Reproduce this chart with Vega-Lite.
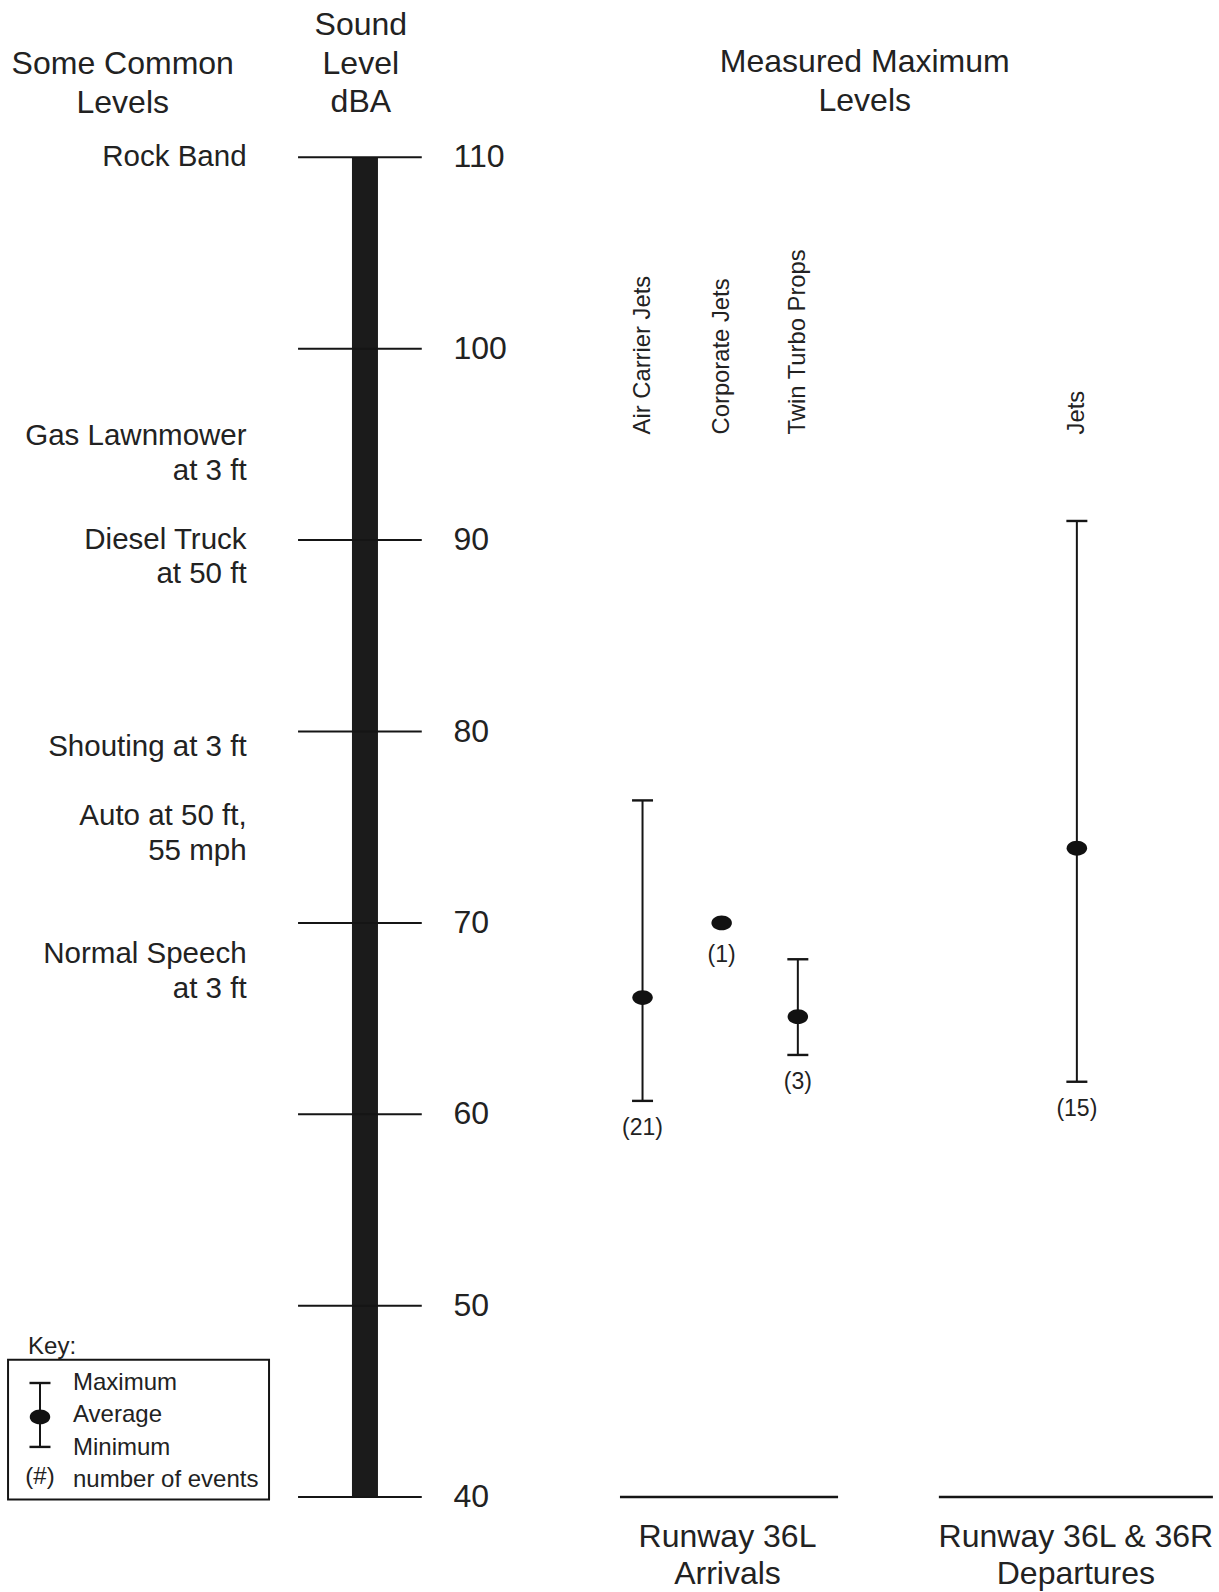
{
  "$schema": "https://vega.github.io/schema/vega-lite/v6.json",
  "width": 1219,
  "height": 1592,
  "autosize": {"type": "none"},
  "padding": 0,
  "background": "white",
  "config": {
    "view": {"stroke": null},
    "text": {"font": "Liberation Sans", "color": "#222", "lineBreak": "\n"},
    "rule": {"color": "#151515"}
  },
  "data": {"values": [{}]},
  "datasets": {
    "scale_ticks": [{"db": 110}, {"db": 100}, {"db": 90}, {"db": 80}, {"db": 70}, {"db": 60}, {"db": 50}, {"db": 40}],
    "scale_span": [{"low": 40, "high": 110}],
    "common_levels": [
      {"source": "Rock Band", "level": 110},
      {"source": "Gas Lawnmower\nat 3 ft", "level": 95.42},
      {"source": "Diesel Truck\nat 50 ft", "level": 90.01},
      {"source": "Shouting at 3 ft", "level": 79.19},
      {"source": "Auto at 50 ft,\n55 mph", "level": 75.58},
      {"source": "Normal Speech\nat 3 ft", "level": 68.37}
    ],
    "measured": [
      {"runway": "Runway 36L Arrivals", "aircraft": "Air Carrier Jets", "slot": 52.71, "min": 60.7, "avg": 66.1, "max": 76.4, "events": 21},
      {"runway": "Runway 36L Arrivals", "aircraft": "Corporate Jets", "slot": 59.2, "min": null, "avg": 70.0, "max": null, "events": 1},
      {"runway": "Runway 36L Arrivals", "aircraft": "Twin Turbo Props", "slot": 65.45, "min": 63.1, "avg": 65.1, "max": 68.1, "events": 3},
      {"runway": "Runway 36L & 36R Departures", "aircraft": "Jets", "slot": 88.34, "min": 61.7, "avg": 73.9, "max": 91.0, "events": 15}
    ]
  },
  "layer": [
    {
      "data": {"name": "scale_span"},
      "mark": {"type": "rule", "strokeWidth": 26, "color": "#1b1b1b"},
      "encoding": {
        "x": {"datum": 29.94, "type": "quantitative", "scale": {"domain": [0, 100], "nice": false, "zero": false}, "axis": null},
        "y": {"field": "low", "type": "quantitative", "scale": {"domain": [35.04, 118.22], "nice": false, "zero": false}, "axis": null},
        "y2": {"field": "high"}
      }
    },
    {
      "data": {"name": "scale_ticks"},
      "mark": {"type": "rule", "strokeWidth": 2},
      "encoding": {
        "x": {"datum": 24.45, "type": "quantitative"},
        "x2": {"datum": 34.6},
        "y": {"field": "db", "type": "quantitative"}
      }
    },
    {
      "data": {"name": "scale_ticks"},
      "mark": {"type": "text", "align": "left", "baseline": "middle", "fontSize": 32},
      "encoding": {
        "x": {"datum": 37.2, "type": "quantitative"},
        "y": {"field": "db", "type": "quantitative"},
        "text": {"field": "db", "type": "quantitative"}
      }
    },
    {
      "data": {"name": "common_levels"},
      "mark": {"type": "text", "align": "right", "baseline": "middle", "fontSize": 29.5, "lineHeight": 34.5},
      "encoding": {
        "x": {"datum": 20.23, "type": "quantitative"},
        "y": {"field": "level", "type": "quantitative"},
        "text": {"field": "source"}
      }
    },
    {
      "mark": {"type": "text", "align": "center", "baseline": "middle", "fontSize": 32, "lineHeight": 38.5},
      "encoding": {
        "x": {"datum": 10.07, "type": "quantitative"},
        "y": {"datum": 114.87, "type": "quantitative"},
        "text": {"value": "Some Common\nLevels"}
      }
    },
    {
      "mark": {"type": "text", "align": "center", "baseline": "middle", "fontSize": 32, "lineHeight": 38.5},
      "encoding": {
        "x": {"datum": 29.6, "type": "quantitative"},
        "y": {"datum": 116.91, "type": "quantitative"},
        "text": {"value": "Sound\nLevel\ndBA"}
      }
    },
    {
      "mark": {"type": "text", "align": "center", "baseline": "middle", "fontSize": 32, "lineHeight": 38.6},
      "encoding": {
        "x": {"datum": 70.94, "type": "quantitative"},
        "y": {"datum": 114.97, "type": "quantitative"},
        "text": {"value": "Measured Maximum\nLevels"}
      }
    },
    {
      "data": {"name": "measured"},
      "mark": {"type": "text", "align": "left", "baseline": "middle", "angle": 270, "fontSize": 23.8},
      "encoding": {
        "x": {"field": "slot", "type": "quantitative"},
        "y": {"datum": 95.52, "type": "quantitative"},
        "text": {"field": "aircraft"}
      }
    },
    {
      "data": {"name": "measured"},
      "transform": [{"filter": "isValid(datum.min)"}],
      "mark": {"type": "rule", "strokeWidth": 2},
      "encoding": {
        "x": {"field": "slot", "type": "quantitative"},
        "y": {"field": "min", "type": "quantitative"},
        "y2": {"field": "max"}
      }
    },
    {
      "data": {"name": "measured"},
      "transform": [{"filter": "isValid(datum.min)"}, {"fold": ["min", "max"], "as": ["end", "level"]}],
      "mark": {"type": "point", "shape": "stroke", "size": 441, "strokeWidth": 2.4, "color": "#151515", "opacity": 1, "filled": false},
      "encoding": {
        "x": {"field": "slot", "type": "quantitative"},
        "y": {"field": "level", "type": "quantitative"}
      }
    },
    {
      "data": {"name": "measured"},
      "mark": {"type": "point", "shape": "M-1,0A1,0.72 0 1,1 1,0A1,0.72 0 1,1 -1,0Z", "size": 420, "filled": true, "color": "#111", "opacity": 1},
      "encoding": {
        "x": {"field": "slot", "type": "quantitative"},
        "y": {"field": "avg", "type": "quantitative"}
      }
    },
    {
      "data": {"name": "measured"},
      "transform": [{"filter": "isValid(datum.min)"}, {"calculate": "'(' + datum.events + ')'", "as": "events_label"}],
      "mark": {"type": "text", "align": "center", "baseline": "middle", "fontSize": 23, "dy": 27},
      "encoding": {
        "x": {"field": "slot", "type": "quantitative"},
        "y": {"field": "min", "type": "quantitative"},
        "text": {"field": "events_label"}
      }
    },
    {
      "data": {"name": "measured"},
      "transform": [{"filter": "!isValid(datum.min)"}, {"calculate": "'(' + datum.events + ')'", "as": "events_label"}],
      "mark": {"type": "text", "align": "center", "baseline": "middle", "fontSize": 23, "dy": 32},
      "encoding": {
        "x": {"field": "slot", "type": "quantitative"},
        "y": {"field": "avg", "type": "quantitative"},
        "text": {"field": "events_label"}
      }
    },
    {
      "mark": {"type": "rule", "strokeWidth": 2.5},
      "encoding": {
        "x": {"datum": 50.86, "type": "quantitative"},
        "x2": {"datum": 68.75},
        "y": {"datum": 40.0, "type": "quantitative"}
      }
    },
    {
      "mark": {"type": "rule", "strokeWidth": 2.5},
      "encoding": {
        "x": {"datum": 77.02, "type": "quantitative"},
        "x2": {"datum": 99.5},
        "y": {"datum": 40.0, "type": "quantitative"}
      }
    },
    {
      "mark": {"type": "text", "align": "center", "baseline": "middle", "fontSize": 32, "lineHeight": 37.6},
      "encoding": {
        "x": {"datum": 59.68, "type": "quantitative"},
        "y": {"datum": 37.92, "type": "quantitative"},
        "text": {"value": "Runway 36L\nArrivals"}
      }
    },
    {
      "mark": {"type": "text", "align": "center", "baseline": "middle", "fontSize": 32, "lineHeight": 37.6},
      "encoding": {
        "x": {"datum": 88.26, "type": "quantitative"},
        "y": {"datum": 37.92, "type": "quantitative"},
        "text": {"value": "Runway 36L & 36R\nDepartures"}
      }
    },
    {
      "mark": {"type": "rect", "fill": null, "stroke": "#151515", "strokeWidth": 2},
      "encoding": {
        "x": {"datum": 0.66, "type": "quantitative"},
        "x2": {"datum": 22.07},
        "y": {"datum": 47.17, "type": "quantitative"},
        "y2": {"datum": 39.87}
      }
    },
    {
      "mark": {"type": "text", "align": "left", "baseline": "middle", "fontSize": 24},
      "encoding": {
        "x": {"datum": 2.3, "type": "quantitative"},
        "y": {"datum": 47.84, "type": "quantitative"},
        "text": {"value": "Key:"}
      }
    },
    {
      "mark": {"type": "rule", "strokeWidth": 2},
      "encoding": {
        "x": {"datum": 3.28, "type": "quantitative"},
        "y": {"datum": 42.62, "type": "quantitative"},
        "y2": {"datum": 45.96}
      }
    },
    {
      "mark": {"type": "point", "shape": "stroke", "size": 441, "strokeWidth": 2.4, "color": "#151515", "opacity": 1, "filled": false},
      "encoding": {
        "x": {"datum": 3.28, "type": "quantitative"},
        "y": {"datum": 45.96, "type": "quantitative"}
      }
    },
    {
      "mark": {"type": "point", "shape": "stroke", "size": 441, "strokeWidth": 2.4, "color": "#151515", "opacity": 1, "filled": false},
      "encoding": {
        "x": {"datum": 3.28, "type": "quantitative"},
        "y": {"datum": 42.62, "type": "quantitative"}
      }
    },
    {
      "mark": {"type": "point", "shape": "M-1,0A1,0.72 0 1,1 1,0A1,0.72 0 1,1 -1,0Z", "size": 420, "filled": true, "color": "#111", "opacity": 1},
      "encoding": {
        "x": {"datum": 3.28, "type": "quantitative"},
        "y": {"datum": 44.19, "type": "quantitative"}
      }
    },
    {
      "mark": {"type": "text", "align": "center", "baseline": "middle", "fontSize": 24},
      "encoding": {
        "x": {"datum": 3.28, "type": "quantitative"},
        "y": {"datum": 41.05, "type": "quantitative"},
        "text": {"value": "(#)"}
      }
    },
    {
      "mark": {"type": "text", "align": "left", "baseline": "middle", "fontSize": 24, "lineHeight": 32.3},
      "encoding": {
        "x": {"datum": 5.99, "type": "quantitative"},
        "y": {"datum": 45.96, "type": "quantitative"},
        "text": {"value": "Maximum\nAverage\nMinimum\nnumber of events"}
      }
    }
  ]
}
